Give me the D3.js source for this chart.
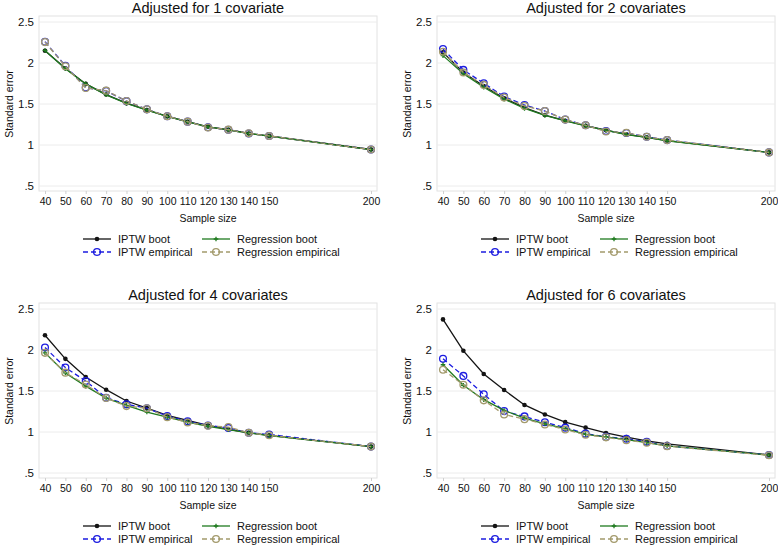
<!DOCTYPE html>
<html><head><meta charset="utf-8">
<script src="https://cdn.jsdelivr.net/npm/d3@7"></script>
<style>body{margin:0;background:#fff;}svg{display:block;font-family:"Liberation Sans",Arial,Helvetica,sans-serif;}</style>
</head><body><svg id="c" width="778" height="545"></svg>
<script>
const sampleSizes = [40,50,60,70,80,90,100,110,120,130,140,150,200];
const yTicks = [0.5,1,1.5,2,2.5];
const yTickLabels = [".5","1","1.5","2","2.5"];
const panelTitles = ["Adjusted for 1 covariate","Adjusted for 2 covariates","Adjusted for 4 covariates","Adjusted for 6 covariates"];
const seriesNames = ["IPTW boot","IPTW empirical","Regression boot","Regression empirical"];

// panel 1: 1 covariate
const iptwBoot1 = [2.15,1.935,1.745,1.615,1.51,1.427,1.35,1.284,1.222,1.186,1.141,1.11,0.945];
const iptwEmp1  = [2.26,1.965,1.70,1.66,1.535,1.435,1.35,1.285,1.216,1.186,1.141,1.11,0.945];
const regBoot1  = [2.153,1.93,1.745,1.612,1.508,1.425,1.349,1.283,1.222,1.185,1.14,1.109,0.944];
const regEmp1   = [2.255,1.96,1.695,1.663,1.537,1.435,1.35,1.285,1.214,1.187,1.142,1.11,0.945];
// panel 2: 2 covariates
const iptwBoot2 = [2.13,1.884,1.72,1.57,1.455,1.365,1.296,1.235,1.18,1.13,1.094,1.053,0.91];
const iptwEmp2  = [2.17,1.916,1.753,1.59,1.488,1.414,1.31,1.24,1.17,1.147,1.10,1.06,0.91];
const regBoot2  = [2.09,1.868,1.705,1.56,1.447,1.36,1.295,1.234,1.178,1.128,1.093,1.052,0.909];
const regEmp2   = [2.137,1.884,1.733,1.58,1.476,1.414,1.31,1.24,1.165,1.15,1.10,1.06,0.91];
// panel 3: 4 covariates
const iptwBoot3 = [2.18,1.892,1.671,1.516,1.378,1.292,1.202,1.141,1.08,1.033,0.99,0.96,0.822];
const iptwEmp3  = [2.03,1.786,1.622,1.418,1.337,1.29,1.194,1.13,1.08,1.05,0.99,0.97,0.822];
const regBoot3  = [1.965,1.72,1.56,1.414,1.325,1.243,1.18,1.12,1.07,1.028,0.99,0.955,0.821];
const regEmp3   = [1.965,1.724,1.578,1.414,1.316,1.29,1.18,1.116,1.076,1.06,0.99,0.96,0.822];
// panel 4: 6 covariates
const iptwBoot4 = [2.373,1.99,1.708,1.512,1.33,1.214,1.12,1.053,0.988,0.937,0.893,0.855,0.72];
const iptwEmp4  = [1.892,1.684,1.459,1.255,1.19,1.118,1.053,0.98,0.94,0.918,0.88,0.83,0.72];
const regBoot4  = [1.82,1.57,1.394,1.263,1.17,1.10,1.04,0.97,0.94,0.906,0.87,0.83,0.718];
const regEmp4   = [1.76,1.576,1.386,1.214,1.157,1.092,1.03,0.967,0.935,0.90,0.87,0.827,0.716];

const panelData = [
  [iptwBoot1,iptwEmp1,regBoot1,regEmp1],
  [iptwBoot2,iptwEmp2,regBoot2,regEmp2],
  [iptwBoot3,iptwEmp3,regBoot3,regEmp3],
  [iptwBoot4,iptwEmp4,regBoot4,regEmp4]
];

const styles = [
  {color:"#141414", dash:null, marker:"dot"},
  {color:"#1c1ce0", dash:"5,3", marker:"ring"},
  {color:"#1f7a1f", dash:null, marker:"plus"},
  {color:"#a39a6c", dash:"5,3", marker:"ring"}
];

const offsets = [[0,0],[398,0],[0,287],[398,287]];
const svg = d3.select("#c");

function drawMarker(g, type, color, x, y) {
  if (type === "dot") {
    g.append("circle").attr("cx",x).attr("cy",y).attr("r",2.3).attr("fill",color);
  } else if (type === "ring") {
    g.append("circle").attr("cx",x).attr("cy",y).attr("r",3.4).attr("fill","none").attr("stroke",color).attr("stroke-width",1.3);
  } else {
    g.append("path").attr("d",`M${x-2.3},${y}H${x+2.3}M${x},${y-2.3}V${y+2.3}`).attr("stroke",color).attr("stroke-width",1.3);
  }
}

panelData.forEach((series, p) => {
  const g = svg.append("g").attr("transform",`translate(${offsets[p][0]},${offsets[p][1]})`);
  const x = d3.scaleLinear().domain([40,200]).range([45,371]);
  const y = d3.scaleLinear().domain([0.5,2.5]).range([186,22]);
  const fx0 = 39, fx1 = 377, fy0 = 16, fy1 = 191;

  // frame
  g.append("rect").attr("x",fx0).attr("y",fy0).attr("width",fx1-fx0).attr("height",fy1-fy0)
    .attr("fill","#fff").attr("stroke","#e2e2e2").attr("stroke-width",1);
  // gridlines
  g.selectAll(".grid").data(yTicks).enter().append("line")
    .attr("x1",fx0).attr("x2",fx1).attr("y1",d=>y(d)).attr("y2",d=>y(d))
    .attr("stroke","#ececec").attr("stroke-width",1);

  // y axis via d3
  const yAxis = d3.axisLeft(y).tickValues(yTicks).tickFormat((d,i)=>yTickLabels[i]).tickSize(0).tickPadding(5);
  const ya = g.append("g").attr("transform",`translate(${fx0},0)`).call(yAxis);
  ya.select(".domain").remove();
  ya.selectAll("text").attr("font-size",11.5).attr("fill","#111").attr("font-family","'Liberation Sans',Arial,sans-serif");

  // x axis
  const xAxis = d3.axisBottom(x).tickValues(sampleSizes).tickFormat(d3.format("d")).tickSize(3).tickPadding(4);
  const xa = g.append("g").attr("transform",`translate(0,${fy1})`).call(xAxis);
  xa.select(".domain").remove();
  xa.selectAll("line").attr("stroke","#cfcfcf");
  xa.selectAll("text").attr("font-size",10.5).attr("fill","#111").attr("font-family","'Liberation Sans',Arial,sans-serif");

  // titles
  g.append("text").attr("x",208).attr("y",13).attr("text-anchor","middle").attr("font-size",14.5).attr("fill","#111").text(panelTitles[p]);
  g.append("text").attr("x",208).attr("y",222).attr("text-anchor","middle").attr("font-size",10.5).attr("fill","#111").text("Sample size");
  g.append("text").attr("transform",`translate(13,104) rotate(-90)`).attr("text-anchor","middle").attr("font-size",10.5).attr("fill","#111").text("Standard error");

  // series
  const line = d3.line().x((d,i)=>x(sampleSizes[i])).y(d=>y(d));
  series.forEach((vals, s) => {
    const st = styles[s];
    g.append("path").attr("d",line(vals)).attr("fill","none").attr("stroke",st.color)
      .attr("stroke-width",1.3).attr("stroke-dasharray",st.dash);
    const mg = g.append("g");
    vals.forEach((v,i)=>drawMarker(mg, st.marker, st.color, x(sampleSizes[i]), y(v)));
  });

  // legend
  const legPos = [[83,239],[83,252],[202,239],[202,252]];
  seriesNames.forEach((name, s) => {
    const st = styles[s];
    const [lx, ly] = legPos[s];
    g.append("line").attr("x1",lx).attr("x2",lx+28).attr("y1",ly).attr("y2",ly)
      .attr("stroke",st.color).attr("stroke-width",1.3).attr("stroke-dasharray",st.dash);
    drawMarker(g, st.marker, st.color, lx+14, ly);
    g.append("text").attr("x",lx+35).attr("y",ly+4).attr("font-size",11).attr("fill","#111").text(name);
  });
});
</script></body></html>
